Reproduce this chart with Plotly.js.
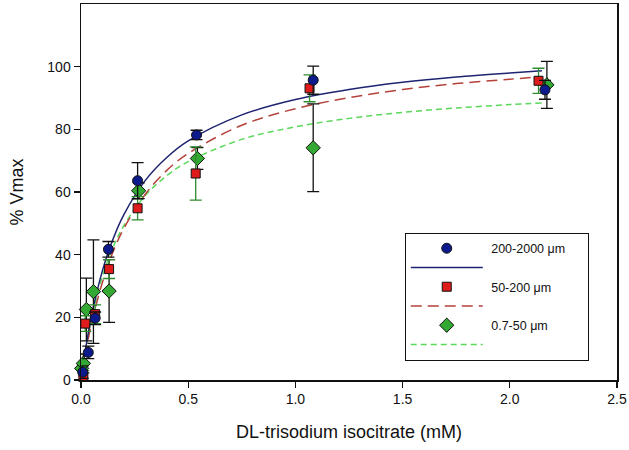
<!DOCTYPE html>
<html>
<head>
<meta charset="utf-8">
<script src="https://cdn.plot.ly/plotly-3.0.1.min.js"></script>
<style>html,body{margin:0;padding:0;background:#fff;}#chart{width:629px;height:450px;}</style>
</head>
<body>
<div id="chart"></div>
<script>
// ---- data ----
var seriesNames = ["200-2000 \u03bcm", "50-200 \u03bcm", "0.7-50 \u03bcm"];

var blueX   = [0.008, 0.034, 0.066, 0.128, 0.264, 0.539, 1.083, 2.164];
var blueY   = [2.5, 8.8, 19.7, 41.7, 63.6, 78.2, 95.7, 92.6];
var blueErr = [2, 2, 2, 2.5, 5.8, 1.5, 4.5, 3];

var redX   = [0.011, 0.020, 0.066, 0.131, 0.264, 0.535, 1.066, 2.134];
var redY   = [1.0, 18.0, 21.0, 35.4, 54.8, 65.9, 93.1, 95.5];
var redErr = [2, 2.5, 3, 3, 3.7, 8.5, 4.3, 4];

var greenX   = [0.003, 0.011, 0.025, 0.058, 0.131, 0.269, 0.543, 1.083, 2.173];
var greenY   = [3.7, 5.3, 22.5, 28.2, 28.4, 60.4, 70.7, 74.1, 94.2];
var greenErr = [2.5, 3, 10, 16.5, 10, 2.5, 3.5, 14, 7.5];

// fitted curves, values
var curveX     = [0.005, 0.02, 0.05, 0.1, 0.15, 0.2, 0.3, 0.4, 0.5, 0.75, 1.0, 1.25, 1.5, 1.75, 2.0, 2.15];
var blueCurve  = [2.5, 9.4, 20.8, 34.9, 45.1, 52.8, 63.7, 71.0, 76.3, 84.6, 89.5, 92.7, 95.0, 96.7, 98.0, 98.7];
var redCurve   = [2.2, 8.1, 18.3, 31.2, 41.0, 48.4, 59.3, 66.9, 72.3, 81.3, 86.6, 90.1, 92.7, 94.6, 96.0, 96.8];
var greenCurve = [2.5, 9.2, 20.0, 33.2, 42.4, 49.3, 58.9, 65.2, 69.7, 76.8, 80.8, 83.5, 85.4, 86.8, 87.9, 88.4];

var xTicks = [0, 0.5, 1.0, 1.5, 2.0, 2.5];
var xTickText = ["0.0", "0.5", "1.0", "1.5", "2.0", "2.5"];
var yTicks = [0, 20, 40, 60, 80, 100];

var NB = '\u00a0';

function lineTrace(y, color, dash, rank) {
  return {x: curveX, y: y, type: 'scatter', mode: 'lines', name: NB,
    line: {color: color, width: 1.5, dash: dash, shape: 'spline'},
    legendrank: rank, hoverinfo: 'skip'};
}
function markTrace(x, y, e, name, symbol, fill, size, errColor, rank) {
  return {x: x, y: y, type: 'scatter', mode: 'markers', name: NB + name + NB + NB + NB + NB + NB,
    marker: {symbol: symbol, color: fill, size: size, line: {color: '#111', width: 1}},
    error_y: {type: 'data', array: e, visible: true, color: errColor, thickness: 1.3, width: 6},
    cliponaxis: false, legendrank: rank};
}

var data = [
  lineTrace(greenCurve, '#5ad85a', '6px,4px', 6),
  lineTrace(redCurve, '#b5413b', '11px,6px', 4),
  lineTrace(blueCurve, '#1f2470', 'solid', 2),
  markTrace(greenX, greenY, greenErr, seriesNames[2], 'diamond', '#33a833', 11, '#111', 5),
  markTrace(redX, redY, redErr, seriesNames[1], 'square', '#e01b1b', 9, '#2e8b2e', 3),
  markTrace(blueX, blueY, blueErr, seriesNames[0], 'circle', '#0d1a8c', 10, '#111', 1)
];

var layout = {
  width: 629, height: 450,
  margin: {l: 81, r: 12, t: 4, b: 70},
  paper_bgcolor: '#fff', plot_bgcolor: '#fff',
  font: {family: 'Liberation Sans, Arial, sans-serif', size: 14, color: '#111'},
  showlegend: true,
  legend: {x: 0.604, y: 0.392, xanchor: 'left', yanchor: 'top',
    bordercolor: '#111', borderwidth: 1, bgcolor: '#fff',
    font: {size: 12.5, family: 'Liberation Sans, Arial, sans-serif'},
    itemwidth: 72, tracegroupgap: 0},
  xaxis: {range: [0, 2.5], tickvals: xTicks, ticktext: xTickText,
    showgrid: false, zeroline: false, showline: true, mirror: true,
    linecolor: '#111', linewidth: 1.5, ticks: 'outside', ticklen: 6, tickwidth: 1.3, tickcolor: '#111',
    tickfont: {size: 14},
    title: {text: 'DL-trisodium isocitrate (mM)', font: {size: 18}, standoff: 19}},
  yaxis: {range: [0, 120], tickvals: yTicks,
    showgrid: false, zeroline: false, showline: true, mirror: true,
    linecolor: '#111', linewidth: 1.5, ticks: 'outside', ticklen: 6, tickwidth: 1.3, tickcolor: '#111',
    tickfont: {size: 14},
    title: {text: '% Vmax', font: {size: 18}, standoff: 19}}
};

Plotly.newPlot('chart', data, layout, {displayModeBar: false, staticPlot: true});
</script>
</body>
</html>
